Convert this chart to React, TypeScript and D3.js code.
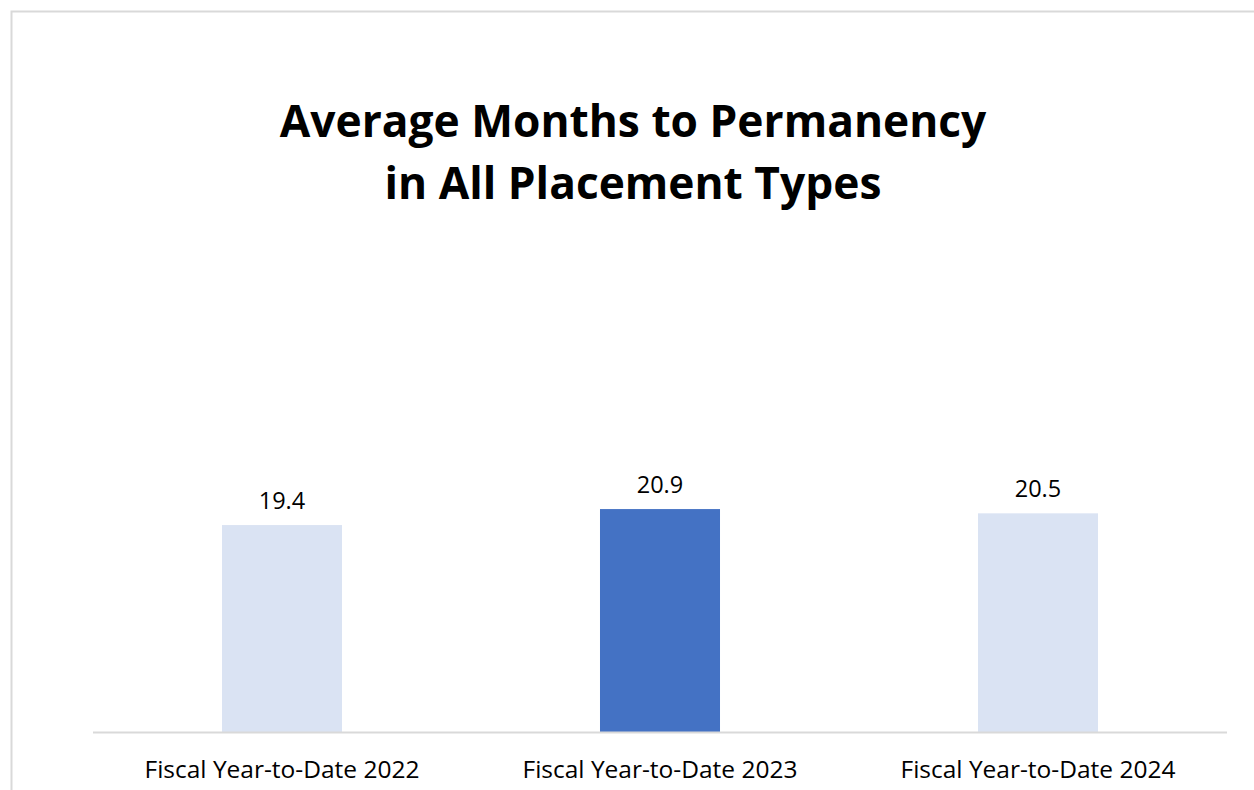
import { useMemo } from "react";
import * as d3 from "d3";

const WIDTH = 1254;
const HEIGHT = 790;
const MARGIN = { top: 92, right: 27, bottom: 58, left: 93 };

const categories = [
  "Fiscal Year-to-Date 2022",
  "Fiscal Year-to-Date 2023",
  "Fiscal Year-to-Date 2024",
];
const values = [19.4, 20.9, 20.5];
const barColors = ["#dae3f3", "#4472c4", "#dae3f3"];
const titleLines = ["Average Months to Permanency", "in All Placement Types"];

const FONT = "'Open Sans', sans-serif";

export default function App() {
  const boundsWidth = WIDTH - MARGIN.left - MARGIN.right;
  const boundsHeight = HEIGHT - MARGIN.top - MARGIN.bottom;

  const xScale = useMemo(
    () => d3.scaleBand().domain(categories).range([0, boundsWidth]).paddingInner(0.6825).paddingOuter(0.34125),
    [boundsWidth]
  );
  const yScale = useMemo(
    () => d3.scaleLinear().domain([0, 60]).range([boundsHeight, 0]),
    [boundsHeight]
  );

  return (
    <div style={{ position: "absolute", left: 0, top: 0 }}>
      <svg width={WIDTH} height={HEIGHT} style={{ display: "block", background: "#fff" }}>
        <rect x={11.5} y={11.5} width={WIDTH + 10} height={HEIGHT + 10} fill="none" stroke="#d9d9d9" strokeWidth={2} />
        {titleLines.map((t, i) => (
          <text
            key={i}
            x={633}
            y={137 + i * 62}
            textAnchor="middle"
            fontFamily={FONT}
            fontWeight="bold"
            fontSize={44.3}
            fill="#000"
          >
            {t}
          </text>
        ))}
        <g transform={`translate(${MARGIN.left}, ${MARGIN.top})`}>
          {values.map((v, i) => {
            const x = xScale(categories[i]) ?? 0;
            return (
              <g key={i}>
                <rect x={x} y={yScale(v)} width={xScale.bandwidth()} height={boundsHeight - yScale(v)} fill={barColors[i]} />
                <text
                  x={x + xScale.bandwidth() / 2}
                  y={yScale(v) - 16}
                  textAnchor="middle"
                  fontFamily={FONT}
                  fontSize={23.5}
                  fill="#000"
                >
                  {v.toFixed(1)}
                </text>
              </g>
            );
          })}
          <line x1={0} x2={boundsWidth} y1={boundsHeight + 0.5} y2={boundsHeight + 0.5} stroke="#d9d9d9" strokeWidth={2} />
          {categories.map((c) => (
            <text
              key={c}
              x={(xScale(c) ?? 0) + xScale.bandwidth() / 2}
              y={boundsHeight + 46}
              textAnchor="middle"
              fontFamily={FONT}
              fontSize={24.5}
              fill="#000"
            >
              {c}
            </text>
          ))}
        </g>
      </svg>
    </div>
  );
}
